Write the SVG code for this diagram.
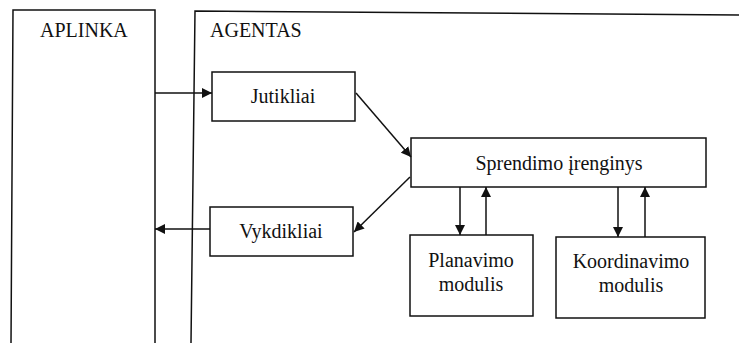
<svg xmlns="http://www.w3.org/2000/svg" width="739" height="343" viewBox="0 0 739 343">
<defs>
<marker id="ah" viewBox="0 0 10 10" refX="10" refY="5" markerWidth="10" markerHeight="10" markerUnits="userSpaceOnUse" orient="auto">
<path d="M0,0 L10,5 L0,10 z" fill="#111"/>
</marker>
<style>
.box{fill:#fff;stroke:#111;stroke-width:1.5}
.ln{fill:none;stroke:#111;stroke-width:1.5}
.t{font-family:"Liberation Serif","Times New Roman",serif;font-size:20px;fill:#111;text-anchor:middle}
.tl{font-family:"Liberation Serif","Times New Roman",serif;font-size:20px;fill:#111}
</style>
</defs>
<rect width="739" height="343" fill="#fff"/>
<g id="aplinka">
<path class="ln" d="M11,343 L13,10 L155,10 L155,343"/>
<text class="tl" x="40" y="37">APLINKA</text>
</g>
<g id="agentas">
<path class="ln" d="M191,343 L195,11 L739,15"/>
<text class="tl" x="210" y="37">AGENTAS</text>
</g>
<g id="jutikliai">
<rect class="box" x="212" y="72" width="143" height="49"/>
<text class="t" x="283" y="103">Jutikliai</text>
</g>
<g id="vykdikliai">
<rect class="box" x="210" y="207" width="143" height="49"/>
<text class="t" x="281" y="238">Vykdikliai</text>
</g>
<g id="sprendimo">
<rect class="box" x="411" y="138" width="295" height="49"/>
<text class="t" x="559" y="170">Sprendimo įrenginys</text>
</g>
<g id="planavimo">
<rect class="box" x="410" y="235" width="123" height="81"/>
<text class="t" x="471" y="267">Planavimo</text>
<text class="t" x="471" y="291">modulis</text>
</g>
<g id="koordinavimo">
<rect class="box" x="556" y="237" width="149" height="81"/>
<text class="t" x="631" y="268">Koordinavimo</text>
<text class="t" x="631" y="292">modulis</text>
</g>
<g id="connectors">
<line class="ln" x1="155" y1="93" x2="212" y2="93" marker-end="url(#ah)"/>
<line class="ln" x1="356" y1="93" x2="411" y2="157" marker-end="url(#ah)"/>
<line class="ln" x1="410" y1="177" x2="354" y2="232" marker-end="url(#ah)"/>
<line class="ln" x1="210" y1="229" x2="155" y2="229" marker-end="url(#ah)"/>
<line class="ln" x1="460" y1="187" x2="460" y2="235" marker-end="url(#ah)"/>
<line class="ln" x1="486" y1="235" x2="486" y2="187" marker-end="url(#ah)"/>
<line class="ln" x1="618" y1="187" x2="618" y2="237" marker-end="url(#ah)"/>
<line class="ln" x1="645" y1="237" x2="645" y2="187" marker-end="url(#ah)"/>
</g>
</svg>
